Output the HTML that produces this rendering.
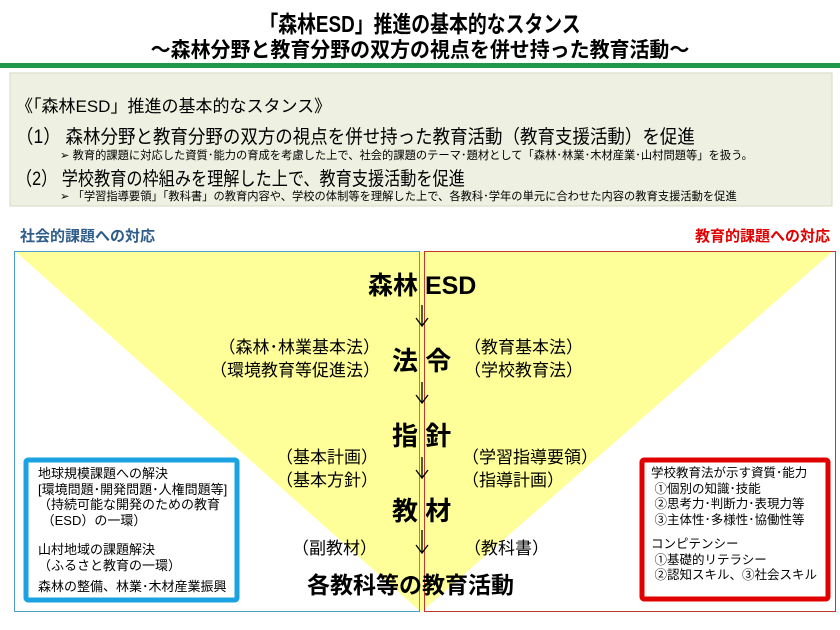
<!DOCTYPE html>
<html><head><meta charset="utf-8"><style>
body{margin:0;width:840px;height:630px;background:#fff;position:relative;overflow:hidden;font-family:"Liberation Sans","Noto Sans CJK JP",sans-serif;color:#000}
.a{position:absolute;white-space:nowrap}
.b{font-weight:bold}
</style></head><body>
<svg class="a" style="left:0;top:0" width="840" height="630">
<rect x="0" y="63" width="840" height="5" fill="#1e9a4a"/>
<rect x="10" y="73" width="822" height="133" fill="#eef1e1" stroke="#d5d9c0"/>
<polygon points="16,252 832,252 421,612" fill="#ffff99"/>
<rect x="14.5" y="251.5" width="405" height="360" fill="none" stroke="#4a9ec9" stroke-width="1"/>
<rect x="424.5" y="251.5" width="411" height="360" fill="none" stroke="#c0392b" stroke-width="1"/>
<rect x="26" y="460" width="211" height="140" fill="#fff" stroke="#1aa3e0" stroke-width="5" rx="2"/>
<rect x="642" y="460" width="186" height="139" fill="#fff" stroke="#e00000" stroke-width="5" rx="2"/>
<g stroke="#000" stroke-width="1.3" fill="none">
<path d="M422 305V325M416 318L422 326L428 318"/>
<path d="M422 382V402M416 395L422 403L428 395"/>
<path d="M422 457V477M416 470L422 478L428 470"/>
<path d="M422 530V552M416 545L422 553L428 545"/>
</g>
</svg>
<div class="a b" style="left:0;width:840px;text-align:center;top:5px;font-size:23px;transform:scaleX(0.82)">「森林ESD」推進の基本的なスタンス</div>
<div class="a b" style="left:0;width:840px;text-align:center;top:34px;font-size:21px;transform:scaleX(0.95)">～森林分野と教育分野の双方の視点を併せ持った教育活動～</div>
<div class="a" style="left:16px;top:92px;font-size:17px">《「森林ESD」推進の基本的なスタンス》</div>
<div class="a" style="left:16px;top:122px;font-size:19px;transform-origin:0 0;transform:scaleX(0.92)">（1） 森林分野と教育分野の双方の視点を併せ持った教育活動（教育支援活動）を促進</div>
<div class="a" style="left:60px;top:147px;font-size:11.5px;transform-origin:0 0;transform:scaleX(0.98)">➢ 教育的課題に対応した資質･能力の育成を考慮した上で、社会的課題のテーマ･題材として「森林･林業･木材産業･山村問題等」を扱う。</div>
<div class="a" style="left:16px;top:164px;font-size:19px;transform-origin:0 0;transform:scaleX(0.85)">（2） 学校教育の枠組みを理解した上で、教育支援活動を促進</div>
<div class="a" style="left:60px;top:188px;font-size:11.5px;transform-origin:0 0;transform:scaleX(0.98)">➢ 「学習指導要領」「教科書」の教育内容や、学校の体制等を理解した上で、各教科･学年の単元に合わせた内容の教育支援活動を促進</div>
<div class="a b" style="left:20px;top:225px;font-size:15px;color:#2e5d8a">社会的課題への対応</div>
<div class="a b" style="right:10px;top:225px;font-size:15px;color:#e00000">教育的課題への対応</div>
<div class="a b" style="left:368px;top:266px;font-size:25px">森林 ESD</div>
<div class="a b" style="left:392px;top:341px;font-size:26px">法 令</div>
<div class="a b" style="left:392px;top:416px;font-size:26px">指 針</div>
<div class="a b" style="left:392px;top:491px;font-size:26px">教 材</div>
<div class="a b" style="left:307px;top:566px;font-size:23px">各教科等の教育活動</div>
<div class="a" style="left:210px;top:336px;font-size:17px;line-height:23px;text-align:right">（森林･林業基本法）<br>（環境教育等促進法）</div>
<div class="a" style="left:464px;top:336px;font-size:17px;line-height:23px">（教育基本法）<br>（学校教育法）</div>
<div class="a" style="left:276px;top:446px;font-size:17px;line-height:23px">（基本計画）<br>（基本方針）</div>
<div class="a" style="left:462px;top:446px;font-size:17px;line-height:23px">（学習指導要領）<br>（指導計画）</div>
<div class="a" style="left:292px;top:534px;font-size:17px">（副教材）</div>
<div class="a" style="left:464px;top:534px;font-size:17px">（教科書）</div>
<div class="a" style="left:38px;top:466px;font-size:13px;line-height:15.5px">地球規模課題への解決<br>[環境問題･開発問題･人権問題等]<br>（持続可能な開発のための教育<br>&nbsp;（ESD）の一環）</div>
<div class="a" style="left:38px;top:542px;font-size:13px;line-height:15.5px">山村地域の課題解決<br>（ふるさと教育の一環）</div>
<div class="a" style="left:38px;top:576px;font-size:13px">森林の整備、林業･木材産業振興</div>
<div class="a" style="left:651px;top:466px;font-size:12.5px;line-height:15.5px">学校教育法が示す資質･能力<br>&nbsp;①個別の知識･技能<br>&nbsp;②思考力･判断力･表現力等<br>&nbsp;③主体性･多様性･協働性等</div>
<div class="a" style="left:651px;top:537px;font-size:12.5px;line-height:15.5px">コンピテンシー<br>&nbsp;①基礎的リテラシー<br>&nbsp;②認知スキル、③社会スキル</div>
</body></html>
